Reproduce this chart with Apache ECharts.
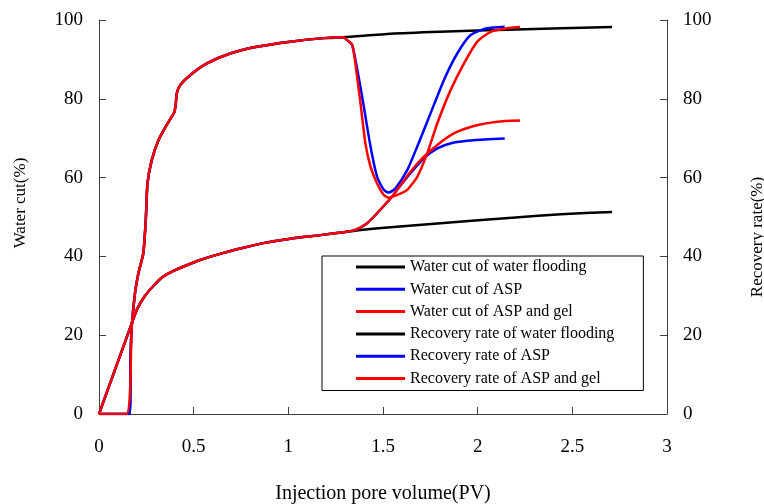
<!DOCTYPE html>
<html>
<head>
<meta charset="utf-8">
<script src="https://cdn.jsdelivr.net/npm/echarts@6/dist/echarts.min.js"></script>
<style>
    html, body { margin: 0; padding: 0; background: #fff; overflow: hidden; }
    #chart { width: 764px; height: 504px; }
</style>
</head>
<body>
<div id="chart"></div>
<script>
// series names, legend order
const seriesNames = [
    'Water cut of water flooding',
    'Water cut of ASP',
    'Water cut of ASP and gel',
    'Recovery rate of water flooding',
    'Recovery rate of ASP',
    'Recovery rate of ASP and gel',
]

// water cut (%) vs injection pore volume (PV)
const wcStartFlood = [[0, 0], [0.162, 0], [0.167, 15], [0.173, 22.2]]
const wcStartGel = [[0, 0], [0.145, 0], [0.173, 22.2]]
const wcBody = [
    [0.19, 30.6], [0.208, 35.7], [0.234, 40.8], [0.247, 49.2], [0.256, 58.5], [0.279, 64.5],
    [0.314, 69.5], [0.358, 73.4], [0.397, 76.5], [0.405, 78.5], [0.411, 81.4], [0.429, 83.5],
    [0.481, 86], [0.57, 89], [0.693, 91.5], [0.834, 93.2], [1.01, 94.5], [1.187, 95.4], [1.29, 95.6],
]
const wcTailFlood = [[1.54, 96.5], [1.8, 97.0], [2.2, 97.6], [2.71, 98.2]]
const wcTailAsp = [
    [1.31, 94.9], [1.337, 93.7], [1.36, 88.5], [1.39, 80.5], [1.434, 67.9], [1.469, 60.2],
    [1.504, 56.9], [1.531, 56.2], [1.566, 57.3], [1.628, 61.9], [1.681, 67.9], [1.751, 76.3],
    [1.822, 84.8], [1.892, 91.5], [1.963, 96.2], [2.05, 97.9], [2.143, 98.3],
]
const wcTailGel = [
    [1.31, 94.9], [1.337, 93.7], [1.354, 89], [1.381, 78.9], [1.407, 68.7], [1.434, 62.8],
    [1.469, 58.5], [1.504, 55.6], [1.531, 54.9], [1.575, 55.6], [1.628, 56.9], [1.681, 60.2],
    [1.734, 66.2], [1.787, 73.8], [1.857, 82.2], [1.928, 89], [1.998, 94.5], [2.069, 97.0],
    [2.157, 97.9], [2.224, 98.2],
]

// recovery rate (%) vs injection pore volume (PV)
const rrBody = [
    [0, 0], [0.173, 23], [0.2, 26.5], [0.243, 30], [0.293, 32.8], [0.331, 34.6], [0.393, 36.3],
    [0.45, 37.5], [0.534, 39.1], [0.658, 40.9], [0.746, 42], [0.86, 43.3], [1.01, 44.5],
    [1.169, 45.4], [1.3, 46.2],
]
const rrTailFlood = [[1.381, 46.7], [1.54, 47.4], [1.804, 48.4], [2.2, 49.9], [2.439, 50.7], [2.71, 51.3]]
const rrRise = [[1.346, 46.6], [1.38, 47.3], [1.416, 48.4], [1.45, 50], [1.504, 52.8], [1.545, 55], [1.575, 56.9]]
const rrTailAsp = [[1.645, 61.1], [1.716, 64.9], [1.787, 67.4], [1.874, 68.9], [1.98, 69.5], [2.143, 69.9]]
const rrTailGel = [[1.645, 61.5], [1.716, 65.3], [1.787, 68.3], [1.874, 71.2], [1.98, 73.1], [2.104, 74.2], [2.224, 74.5]]

const xTicks = { min: 0, max: 3, interval: 0.5 }
const yTicks = { min: 0, max: 100, interval: 20 }

const FONT = '"Liberation Serif", "Times New Roman", serif'
const AXIS_COLOR = '#404040'

const chart = echarts.init(document.getElementById('chart'), null, { width: 764, height: 504 })

const lineSeries = (name, color, yAxisIndex, data) => ({
    name,
    type: 'line',
    yAxisIndex,
    smooth: 0.2,
    showSymbol: false,
    symbol: 'none',
    lineStyle: { width: 2.5, color },
    itemStyle: { color },
    emphasis: { disabled: true },
    data,
})

const yAxisBase = (name, position, namePadding) => ({
    type: 'value',
    position,
    min: yTicks.min,
    max: yTicks.max,
    interval: yTicks.interval,
    name,
    nameLocation: 'middle',
    nameGap: position === 'left' ? 70 : 82,
    nameTextStyle: { fontFamily: FONT, fontSize: 17, color: '#000', padding: namePadding },
    axisLine: { show: true, lineStyle: { color: AXIS_COLOR, width: 1 } },
    axisTick: { show: true, inside: true, length: 7, lineStyle: { color: AXIS_COLOR } },
    axisLabel: { fontFamily: FONT, fontSize: 19, color: '#000', margin: 16 },
    splitLine: { show: false },
})

chart.setOption({
    animation: false,
    grid: { left: 99, right: 97, top: 20, bottom: 90, containLabel: false, outerBoundsMode: 'none' },
    legend: {
        data: seriesNames,
        orient: 'vertical',
        left: 322,
        top: 256,
        padding: [2, 29, 3, 34],
        itemGap: 4.3,
        itemWidth: 49,
        itemHeight: 3,
        icon: 'rect',
        selectedMode: false,
        borderColor: '#000',
        borderWidth: 1,
        borderRadius: 0,
        backgroundColor: '#fff',
        textStyle: { fontFamily: FONT, fontSize: 16, lineHeight: 18, color: '#000' },
    },
    xAxis: {
        type: 'value',
        min: xTicks.min,
        max: xTicks.max,
        interval: xTicks.interval,
        name: 'Injection pore volume(PV)',
        nameLocation: 'middle',
        nameGap: 70,
        nameTextStyle: { fontFamily: FONT, fontSize: 20, color: '#000' },
        axisLine: { show: true, lineStyle: { color: AXIS_COLOR, width: 1 } },
        axisTick: { show: true, inside: true, length: 7, lineStyle: { color: AXIS_COLOR } },
        axisLabel: { fontFamily: FONT, fontSize: 19, color: '#000', margin: 24 },
        splitLine: { show: false },
    },
    yAxis: [
        yAxisBase('Water cut(%)', 'left', [0, 0, 0, 28]),
        yAxisBase('Recovery rate(%)', 'right', [0, 40, 0, 0]),
    ],
    series: [
        lineSeries(seriesNames[0], '#000000', 0, [...wcStartFlood, ...wcBody, ...wcTailFlood]),
        lineSeries(seriesNames[3], '#000000', 1, [...rrBody, ...rrTailFlood]),
        lineSeries(seriesNames[1], '#0000ff', 0, [...wcStartFlood, ...wcBody, ...wcTailAsp]),
        lineSeries(seriesNames[4], '#0000ff', 1, [...rrBody, ...rrRise, ...rrTailAsp]),
        lineSeries(seriesNames[2], '#ff0000', 0, [...wcStartGel, ...wcBody, ...wcTailGel]),
        lineSeries(seriesNames[5], '#ff0000', 1, [...rrBody, ...rrRise, ...rrTailGel]),
    ],
})
</script>
</body>
</html>
